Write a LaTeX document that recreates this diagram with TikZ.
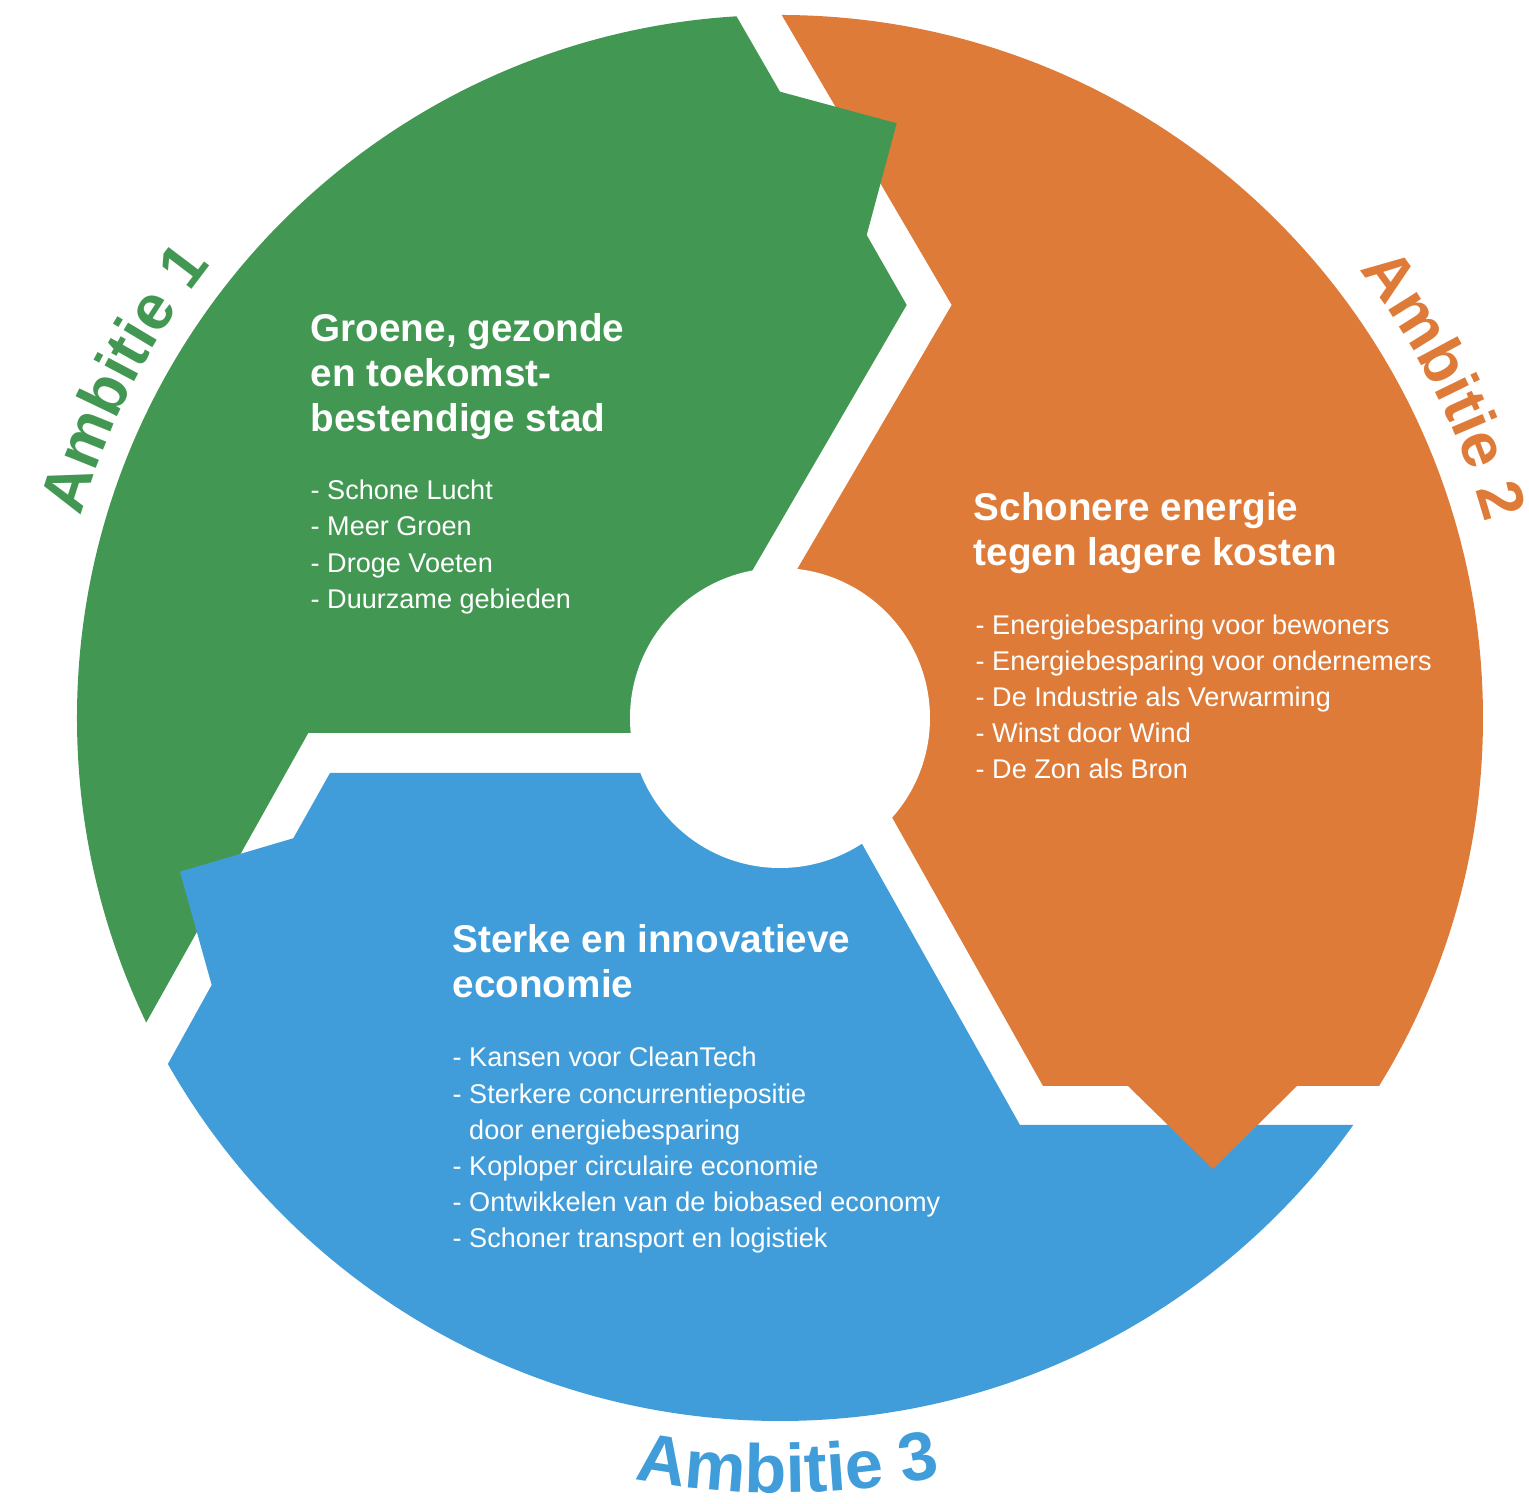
\documentclass[tikz,border=0pt]{standalone}
\usepackage{fontspec}
\setmainfont{Liberation Sans}
\usetikzlibrary{decorations.text}
\definecolor{groen}{RGB}{66,152,82}
\definecolor{oranje}{RGB}{222,123,56}
\definecolor{blauw}{RGB}{64,157,218}
\begin{document}
\begin{tikzpicture}[x=0.01cm, y=0.01cm,
  kop/.style={anchor=base west, inner sep=0, text=white, align=left, font=\bfseries\fontsize{11}{12.8}\selectfont},
  lijst/.style={anchor=base west, inner sep=0, text=white, align=left, font=\fontsize{7.7}{10.3}\selectfont}]
\useasboundingbox (-780,-786) rectangle (749,718);
\begin{scope}
\clip (0,0) circle (703);
\fill[groen] (0,0) -- (-75,66) -- (126.7,413) -- (86.7,483) -- (0,626.3) -- (-65,739) -- (-900,900) -- (-900,-500) -- (-666,-361) -- (-633.3,-303.7) -- (-471.7,-15) -- (-100,-15) -- cycle;
\fill[oranje] (0,0) -- (-30,68.5) -- (16.7,148) -- (171.7,413) -- (1.7,703) -- (-24,746) -- (900,900) -- (900,-368) -- (263,-368) -- (111.7,-98.7) -- (66,-18) -- cycle;
\fill[blauw] (0,0) -- (34,-41) -- (81.7,-125.3) -- (240,-407) -- (900,-407) -- (900,-900) -- (-900,-900) -- (-655,-424) -- (-611.7,-345.3) -- (-568.3,-267) -- (-486.7,-120.3) -- (-450,-55) -- (-90,-55) -- cycle;
\fill[groen] (86.7,483) -- (116.7,594.7) -- (0,626.3) -- (-3.5,624.3) -- (83.2,481) -- cycle;
\fill[oranje] (348,-368) -- (433,-451) -- (517,-368) -- (517,-364) -- (348,-364) -- cycle;
\fill[blauw] (-486.7,-120.3) -- (-600,-153.7) -- (-568.3,-267) -- (-564.8,-269) -- (-483.2,-122.3) -- cycle;
\end{scope}
\fill[white] (0,0) circle (150);
\path[decorate, decoration={text along path, text align=center, text color=groen,
  text={|\bfseries\fontsize{18}{20}\selectfont|Ambitie 1}}] (172.7:728) arc[start angle=172.7, end angle=132.7, radius=728];
\path[decorate, decoration={text along path, text align=center, text color=oranje,
  text={|\bfseries\fontsize{18}{20}\selectfont|Ambitie 2}}] (46.6:732) arc[start angle=46.6, end angle=6.6, radius=732];
\path[decorate, decoration={text along path, text align=center, text color=blauw,
  text={|\bfseries\fontsize{19.5}{22}\selectfont|Ambitie 3}}] (250.6:775) arc[start angle=250.6, end angle=290.6, radius=775];
\node[kop] (kop1) at (-470,286.3) {Groene, gezonde\\en toekomst-\\bestendige stad};
\node[lijst] (lijst1) at (-470,109.7) {- Schone Lucht\\- Meer Groen\\- Droge Voeten\\- Duurzame gebieden};
\node[kop] (kop2) at (193,152) {Schonere energie\\tegen lagere kosten};
\node[lijst] (lijst2) at (195,-61) {- Energiebesparing voor bewoners\\- Energiebesparing voor ondernemers\\- De Industrie als Verwarming\\- Winst door Wind\\- De Zon als Bron};
\node[kop] (kop3) at (-328,-279.7) {Sterke en innovatieve\\economie};
\node[lijst] (lijst3) at (-328,-530) {- Kansen voor CleanTech\\- Sterkere concurrentiepositie\\\hspace*{4.7pt}door energiebesparing\\- Koploper circulaire economie\\- Ontwikkelen van de biobased economy\\- Schoner transport en logistiek};
\end{tikzpicture}
\end{document}
